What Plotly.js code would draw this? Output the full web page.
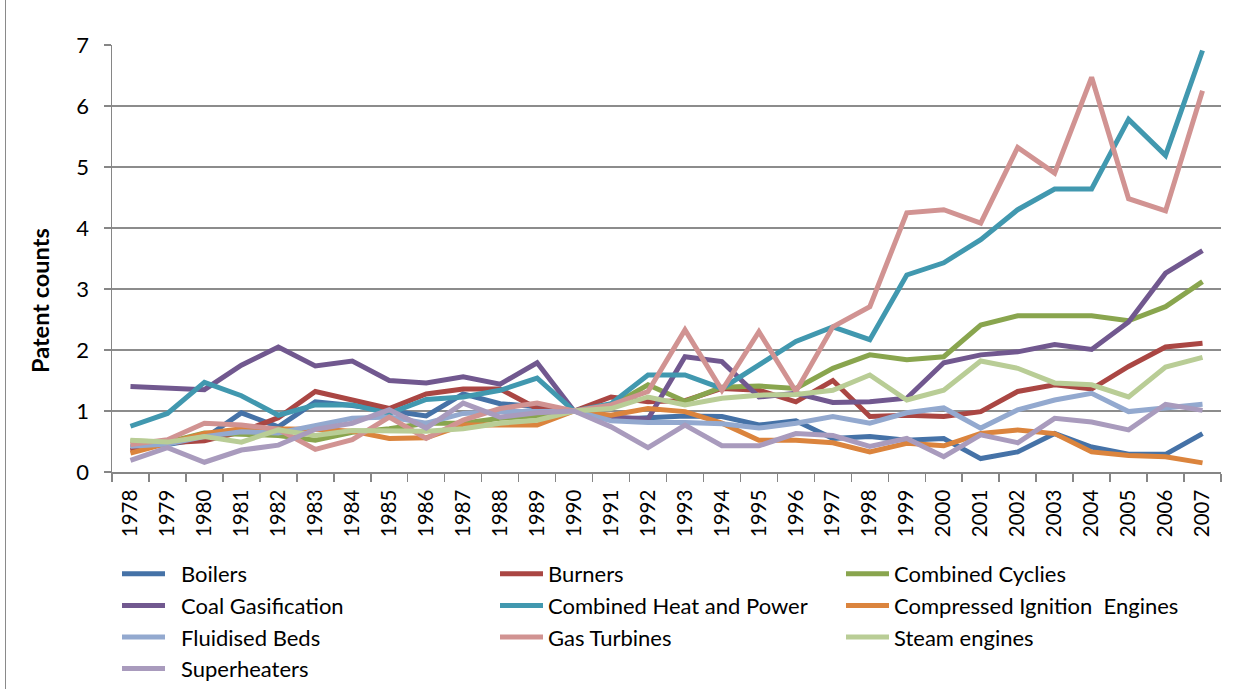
<!DOCTYPE html>
<html>
<head>
<meta charset="utf-8">
<script src="https://cdn.plot.ly/plotly-3.0.1.min.js"></script>
<style>
html,body{margin:0;padding:0;background:#fff;}
#wrap{position:relative;width:1246px;height:689px;}
#chart{width:1246px;height:689px;}
#border{position:absolute;left:5px;top:0;width:1px;height:689px;background:#8a8a8a;}
</style>
</head>
<body>
<div id="wrap"><div id="chart"></div><div id="border"></div></div>
<script>
const years = ["1978","1979","1980","1981","1982","1983","1984","1985","1986","1987","1988","1989","1990","1991","1992","1993","1994","1995","1996","1997","1998","1999","2000","2001","2002","2003","2004","2005","2006","2007"];

const boilers = [0.41,0.45,0.55,0.97,0.74,1.15,1.09,1.01,0.92,1.28,1.12,1.07,1.0,0.86,0.88,0.92,0.91,0.77,0.84,0.55,0.58,0.52,0.55,0.22,0.33,0.63,0.41,0.29,0.29,0.63];
const burners = [0.35,0.48,0.51,0.66,0.89,1.32,1.18,1.04,1.28,1.36,1.36,1.04,1.0,1.23,1.15,1.17,1.37,1.34,1.15,1.5,0.91,0.93,0.91,0.99,1.32,1.43,1.36,1.73,2.05,2.11];
const combinedCycles = [0.51,0.49,0.64,0.62,0.6,0.52,0.65,0.71,0.8,0.8,0.88,0.92,1.0,1.08,1.43,1.16,1.39,1.41,1.37,1.7,1.92,1.84,1.89,2.41,2.56,2.56,2.56,2.48,2.71,3.12];
const coalGasification = [1.4,1.37,1.35,1.75,2.05,1.74,1.82,1.5,1.46,1.56,1.44,1.79,1.0,0.9,0.87,1.89,1.81,1.23,1.29,1.14,1.15,1.21,1.79,1.92,1.97,2.09,2.01,2.46,3.26,3.63];
const chp = [0.75,0.96,1.47,1.25,0.93,1.1,1.1,0.96,1.19,1.23,1.34,1.54,1.0,1.12,1.59,1.59,1.37,1.75,2.14,2.38,2.17,3.23,3.43,3.81,4.3,4.64,4.64,5.78,5.19,6.91];
const ciEngines = [0.31,0.47,0.63,0.71,0.71,0.7,0.67,0.55,0.56,0.77,0.77,0.77,1.0,0.93,1.04,0.99,0.8,0.52,0.52,0.48,0.33,0.47,0.43,0.63,0.69,0.63,0.33,0.27,0.25,0.15];
const fluidisedBeds = [0.42,0.46,0.58,0.66,0.64,0.77,0.88,0.9,0.8,0.96,0.99,0.99,1.0,0.84,0.81,0.81,0.79,0.72,0.8,0.91,0.8,0.97,1.05,0.72,1.02,1.18,1.29,0.99,1.05,1.11];
const gasTurbines = [0.45,0.53,0.8,0.77,0.7,0.37,0.53,0.9,0.55,0.85,1.04,1.13,1.0,1.1,1.32,2.33,1.34,2.3,1.32,2.38,2.71,4.25,4.3,4.08,5.32,4.9,6.47,4.48,4.28,6.25];
const steamEngines = [0.52,0.49,0.58,0.49,0.69,0.6,0.68,0.67,0.67,0.71,0.8,0.85,1.0,1.04,1.23,1.1,1.21,1.26,1.27,1.34,1.59,1.18,1.34,1.82,1.7,1.46,1.43,1.23,1.72,1.88];
const superheaters = [0.19,0.4,0.16,0.36,0.44,0.7,0.8,1.02,0.72,1.13,0.9,0.97,1.0,0.74,0.4,0.77,0.43,0.43,0.63,0.6,0.42,0.55,0.25,0.61,0.48,0.88,0.82,0.69,1.11,1.01];

const seriesNames = ["Boilers","Burners","Combined Cyclies","Coal Gasification","Combined Heat and Power","Compressed Ignition  Engines","Fluidised Beds","Gas Turbines","Steam engines","Superheaters"];
const seriesData = [boilers,burners,combinedCycles,coalGasification,chp,ciEngines,fluidisedBeds,gasTurbines,steamEngines,superheaters];
const colors = ["#4572A7","#AA4643","#89A54E","#71588F","#4198AF","#DB843D","#93A9CF","#D19392","#B9CD96","#A99BBD"];
const legendOf = ["legend","legend2","legend3","legend","legend2","legend3","legend","legend2","legend3","legend"];

const FONT = "Lato, 'Liberation Sans', sans-serif";

const traces = seriesNames.map((n,i)=>({
  type:"scatter", mode:"lines", name:n, x:years, y:seriesData[i],
  line:{color:colors[i], width:5, shape:"linear"},
  legend:legendOf[i], legendgroup:n, hoverinfo:"x+y+name"
}));

const plotL = 112, plotR = 1221, plotT = 45, plotB = 472;
const pw = plotR-plotL, ph = plotB-plotT;
function px2x(p){return (p-plotL)/pw;}
function py2y(p){return (plotB-p)/ph;}

const legBase = {
  orientation:"v", xanchor:"left", yanchor:"top", y:py2y(553),
  font:{family:FONT, size:22, color:"#000"}, bgcolor:"rgba(0,0,0,0)",
  itemwidth:43, tracegroupgap:0, traceorder:"normal"
};

const layout = {
  width:1246, height:689,
  margin:{l:plotL, r:1246-plotR, t:plotT, b:689-plotB, autoexpand:false},
  paper_bgcolor:"#fff", plot_bgcolor:"#fff",
  font:{family:FONT, size:21, color:"#000"},
  showlegend:true,
  xaxis:{
    type:"category", range:[-0.5,29.5], tickson:"boundaries", ticks:"outside", ticklen:8, tickcolor:"#868686", tickwidth:1.5,
    tickangle:-90, showgrid:false, showline:true, linecolor:"#868686", linewidth:1.5, automargin:false,
    tickfont:{family:FONT, size:20.5, color:"#000"}, ticklabelstandoff:8, zeroline:false, fixedrange:true
  },
  yaxis:{
    range:[0,7], dtick:1, tick0:0, showgrid:true, gridcolor:"#8c8c8c", gridwidth:1.5,
    ticks:"outside", ticklen:7, tickcolor:"#868686", tickwidth:1.5, automargin:false,
    showline:true, linecolor:"#868686", linewidth:1.5, zeroline:false,
    tickfont:{family:FONT, size:22, color:"#000"}, ticklabelstandoff:10,
    fixedrange:true
  },
  annotations:[{
    text:"Patent counts", textangle:-90, xref:"paper", yref:"paper",
    x:px2x(40), y:py2y(301), xanchor:"center", yanchor:"middle", showarrow:false,
    font:{family:FONT, size:23.5, color:"#000", weight:"bold"}
  }],
  legend:Object.assign({}, legBase, {x:px2x(117)}),
  legend2:Object.assign({}, legBase, {x:px2x(495)}),
  legend3:Object.assign({}, legBase, {x:px2x(841)})
};

Plotly.newPlot("chart", traces, layout, {displayModeBar:false, staticPlot:true}).then(gd=>{
  gd.querySelectorAll("[clip-path]").forEach(el=>{
    if (el.closest && el.closest(".legend")) el.removeAttribute("clip-path");
  });
  gd.querySelectorAll(".legend .scrollbox, .legend").forEach(el=>el.removeAttribute("clip-path"));
  gd.querySelectorAll(".legendtext").forEach(t=>{
    const x = parseFloat(t.getAttribute("x")||"0");
    t.setAttribute("x", x+11);
  });
  // tighten row pitch to 30px like the reference
  gd.querySelectorAll(".legend").forEach(leg=>{
    const groups = Array.from(leg.querySelectorAll("g.groups"));
    let y0 = null;
    groups.forEach((g,i)=>{
      const tr = g.getAttribute("transform")||"";
      const m = tr.match(/translate\(\s*([-\d.]+)[ ,]+([-\d.]+)\s*\)/);
      if (!m) return;
      const x = parseFloat(m[1]), y = parseFloat(m[2]);
      if (y0===null) y0 = y;
      g.setAttribute("transform", "translate("+x+","+(y0 + i*(-1.5))+")");
    });
  });
});
</script>
</body>
</html>
